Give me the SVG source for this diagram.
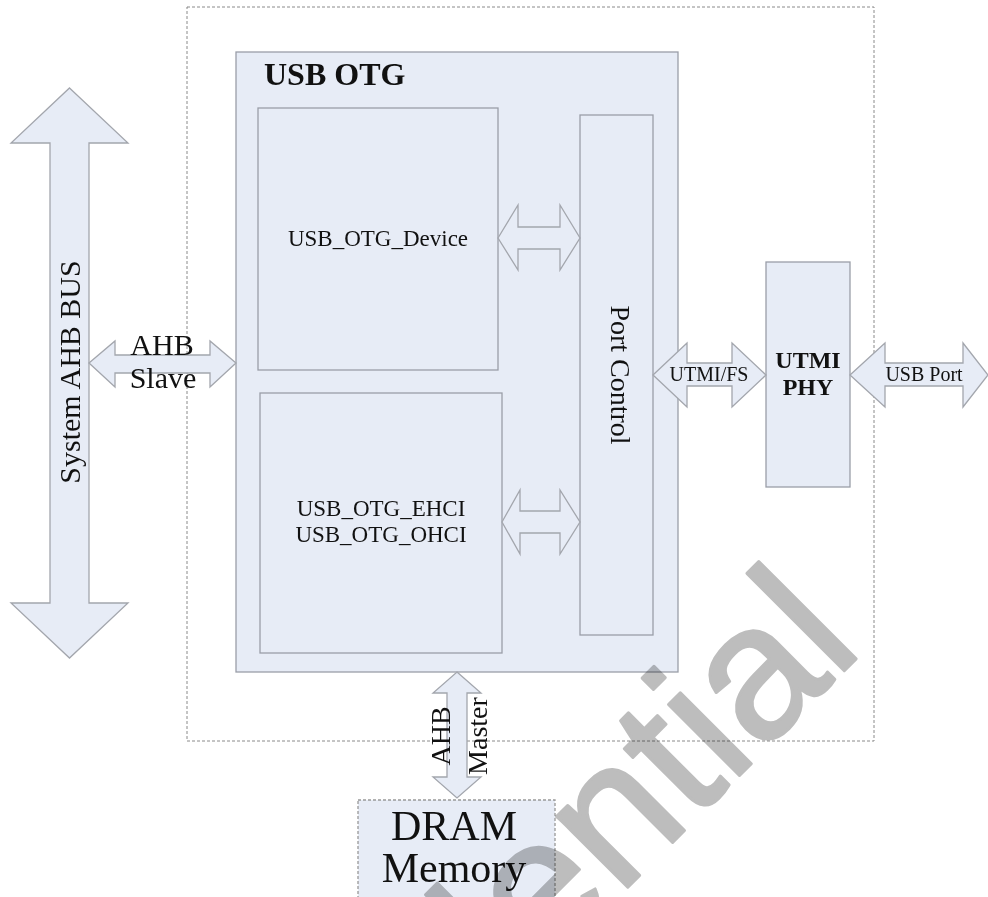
<svg xmlns="http://www.w3.org/2000/svg" width="988" height="897" viewBox="0 0 988 897">
<style>
.box{fill:#e7ecf6;stroke:#9a9ea8;stroke-width:1.3}
.dash{fill:none;stroke:#8a8a8a;stroke-width:1;stroke-dasharray:3 2}
.arr{fill:#e7ecf6;stroke:#a3a6ad;stroke-width:1.3;stroke-linejoin:miter}
.t{font-family:"Liberation Serif","Times New Roman",serif;fill:#111}
.b{font-weight:bold}
.wm{font-family:"Liberation Sans",Arial,sans-serif;fill:#bdbdbd;stroke:#bdbdbd;stroke-width:3;stroke-linejoin:round;mix-blend-mode:multiply}
</style>
<rect width="988" height="897" fill="#fff"/>
<g id="boundary"><rect class="dash" x="187" y="7" width="687" height="734"/></g>
<g id="system_ahb_bus">
<polygon class="arr" points="69.5,88 128,143 89,143 89,603 128,603 69.5,658 11,603 50,603 50,143 11,143"/>
<text class="t" font-size="30" text-anchor="middle" transform="translate(80,372) rotate(-90)">System AHB BUS</text>
</g>
<g id="usb_otg">
<rect class="box" x="236" y="52" width="442" height="620"/>
<text class="t b" font-size="32" x="264" y="85">USB OTG</text>
</g>
<g id="usb_otg_device">
<rect class="box" x="258" y="108" width="240" height="262"/>
<text class="t" font-size="23" text-anchor="middle" x="378" y="246">USB_OTG_Device</text>
</g>
<g id="usb_otg_ehci_ohci">
<rect class="box" x="260" y="393" width="242" height="260"/>
<text class="t" font-size="23" text-anchor="middle" x="381" y="516">USB_OTG_EHCI</text>
<text class="t" font-size="23" text-anchor="middle" x="381" y="542">USB_OTG_OHCI</text>
</g>
<g id="port_control">
<rect class="box" x="580" y="115" width="73" height="520"/>
<text class="t" font-size="28" text-anchor="middle" transform="translate(611,375) rotate(90)">Port Control</text>
</g>
<g id="utmi_phy">
<rect class="box" x="766" y="262" width="84" height="225"/>
<text class="t b" font-size="24" text-anchor="middle" x="808" y="368">UTMI</text>
<text class="t b" font-size="24" text-anchor="middle" x="808" y="395">PHY</text>
</g>
<g id="dram_memory">
<rect class="box" style="stroke:#999;stroke-dasharray:3 2" x="358" y="800" width="197" height="110"/>
<text class="t" font-size="42" text-anchor="middle" x="454" y="840">DRAM</text>
<text class="t" font-size="42" text-anchor="middle" x="454" y="882">Memory</text>
</g>
<g id="connectors">
<polygon class="arr" points="89,363 115,341 115,355 210,355 210,341 236,363 210,387 210,373 115,373 115,387"/>
<text class="t" font-size="30" text-anchor="middle" x="162" y="355">AHB</text>
<text class="t" font-size="30" text-anchor="middle" x="163" y="388">Slave</text>
<polygon class="arr" points="498,238 518,205 518,227 560,227 560,205 580,238 560,270 560,249 518,249 518,270"/>
<polygon class="arr" points="502,522 520,490 520,511 560,511 560,490 580,522 560,554 560,533 520,533 520,554"/>
<polygon class="arr" points="653,375 687,343 687,363 732,363 732,343 766,375 732,407 732,386 687,386 687,407"/>
<text class="t" font-size="20" text-anchor="middle" x="709" y="381">UTMI/FS</text>
<polygon class="arr" points="850,375 885,343 885,363 963,363 963,343 988,375 963,407 963,386 885,386 885,407"/>
<text class="t" font-size="20" text-anchor="middle" x="924" y="381">USB Port</text>
<polygon class="arr" points="457,672 481,693 467,693 467,777 481,777 457,798 433,777 447,777 447,693 433,693"/>
<text class="t" font-size="28" text-anchor="middle" transform="translate(450,736) rotate(-90)">AHB</text>
<text class="t" font-size="28" text-anchor="middle" transform="translate(487,736) rotate(-90)">Master</text>
</g>
<g id="watermark">
<text class="wm" font-size="190" text-anchor="end" transform="translate(865,650) rotate(-45)">Confidential</text>
</g>
</svg>
